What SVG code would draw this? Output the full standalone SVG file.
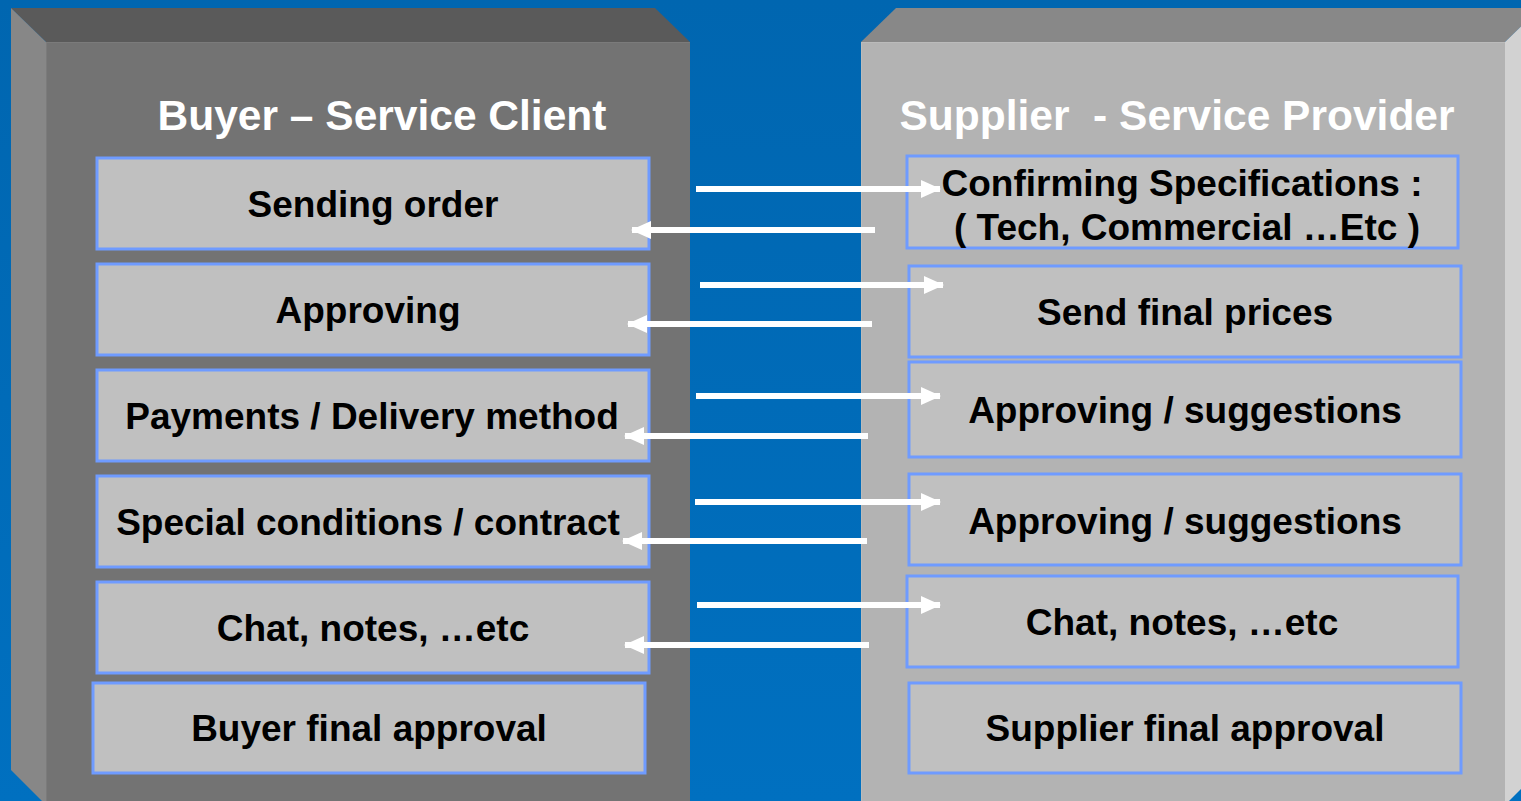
<svg xmlns="http://www.w3.org/2000/svg" width="1521" height="801" viewBox="0 0 1521 801">
<defs>
<style>
.box{fill:#c0c0c0;stroke:#6f9bff;stroke-width:3}
.t{font-family:"Liberation Sans",Arial,sans-serif;font-weight:bold;font-size:37px;fill:#000;text-anchor:middle}
.h{font-family:"Liberation Sans",Arial,sans-serif;font-weight:bold;font-size:42.5px;fill:#fff;text-anchor:middle}
.ar{stroke:#fff;stroke-width:6;fill:none}
</style>
<linearGradient id="bg" x1="0" y1="0" x2="0" y2="1">
<stop offset="0" stop-color="#0066b0"/>
<stop offset="1" stop-color="#0070c0"/>
</linearGradient>
<marker id="ah" viewBox="0 0 20 18" refX="19" refY="9" markerWidth="20" markerHeight="18" markerUnits="userSpaceOnUse" orient="auto">
<path d="M0,0 L20,9 L0,18 z" fill="#fff"/>
</marker>
</defs>
<rect width="1521" height="801" fill="url(#bg)"/>
<g id="buyer-panel">
<polygon points="11,8 655,8 690,42 46,42" fill="#5a5a5a"/>
<polygon points="11,8 46,42 46,805 11,770" fill="#878787"/>
<rect x="46" y="42" width="644" height="770" fill="#737373"/>
<line x1="46" y1="42.5" x2="690" y2="42.5" stroke="#7b7b7b" stroke-width="1"/>
<line x1="46.5" y1="42" x2="46.5" y2="801" stroke="#7b7b7b" stroke-width="1"/>
</g>
<g id="supplier-panel">
<polygon points="896,8 1540,8 1505,42 861,42" fill="#888888"/>
<polygon points="1505,42 1540,8 1540,770 1505,805" fill="#d2d2d2"/>
<rect x="861" y="42" width="644" height="770" fill="#b3b3b3"/>
<line x1="861" y1="42.5" x2="1505" y2="42.5" stroke="#bbbbbb" stroke-width="1"/>
<line x1="861.5" y1="42" x2="861.5" y2="801" stroke="#bbbbbb" stroke-width="1"/>
</g>
<text class="h" x="382" y="130">Buyer – Service Client</text>
<text class="h" x="1177" y="130" xml:space="preserve">Supplier  - Service Provider</text>
<g id="b1"><rect class="box" x="97" y="158" width="552" height="91"/><text class="t" x="373" y="217">Sending order</text></g>
<g id="b2"><rect class="box" x="97" y="264" width="552" height="91"/><text class="t" x="368" y="323">Approving</text></g>
<g id="b3"><rect class="box" x="97" y="370" width="552" height="91"/><text class="t" x="372" y="429">Payments / Delivery method</text></g>
<g id="b4"><rect class="box" x="97" y="476" width="552" height="91"/><text class="t" x="368" y="535">Special conditions / contract</text></g>
<g id="b5"><rect class="box" x="97" y="582" width="552" height="91"/><text class="t" x="373" y="641">Chat, notes, …etc</text></g>
<g id="b6"><rect class="box" x="93" y="683" width="552" height="90"/><text class="t" x="369" y="741">Buyer final approval</text></g>
<g id="s1"><rect class="box" x="907" y="156" width="551" height="92"/><text class="t" x="1182" y="196">Confirming Specifications :</text><text class="t" x="1187" y="240">( Tech, Commercial …Etc )</text></g>
<g id="s2"><rect class="box" x="909" y="266" width="552" height="91"/><text class="t" x="1185" y="325">Send final prices</text></g>
<g id="s3"><rect class="box" x="909" y="362" width="552" height="95"/><text class="t" x="1185" y="423">Approving / suggestions</text></g>
<g id="s4"><rect class="box" x="909" y="474" width="552" height="91"/><text class="t" x="1185" y="534">Approving / suggestions</text></g>
<g id="s5"><rect class="box" x="907" y="576" width="551" height="91"/><text class="t" x="1182" y="635">Chat, notes, …etc</text></g>
<g id="s6"><rect class="box" x="909" y="683" width="552" height="90"/><text class="t" x="1185" y="741">Supplier final approval</text></g>
<g id="connectors">
<line class="ar" x1="696" y1="189" x2="940" y2="189" marker-end="url(#ah)"/>
<line class="ar" x1="875" y1="230" x2="632" y2="230" marker-end="url(#ah)"/>
<line class="ar" x1="700" y1="285" x2="943" y2="285" marker-end="url(#ah)"/>
<line class="ar" x1="872" y1="324" x2="628" y2="324" marker-end="url(#ah)"/>
<line class="ar" x1="696" y1="396" x2="940" y2="396" marker-end="url(#ah)"/>
<line class="ar" x1="868" y1="436" x2="625" y2="436" marker-end="url(#ah)"/>
<line class="ar" x1="695" y1="502" x2="940" y2="502" marker-end="url(#ah)"/>
<line class="ar" x1="867" y1="541" x2="623" y2="541" marker-end="url(#ah)"/>
<line class="ar" x1="697" y1="605" x2="940" y2="605" marker-end="url(#ah)"/>
<line class="ar" x1="869" y1="645" x2="625" y2="645" marker-end="url(#ah)"/>
</g>
</svg>
